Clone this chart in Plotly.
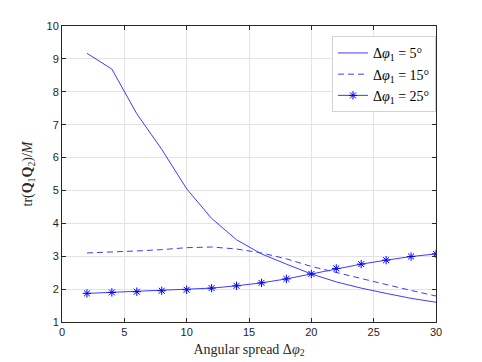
import plotly.graph_objects as go

# angular spread of user 2 (degrees)
x = [2, 4, 6, 8, 10, 12, 14, 16, 18, 20, 22, 24, 26, 28, 30]

# tr(Q1 Q2)/M for the three spreads of user 1
phi5 = [9.17, 8.69, 7.33, 6.25, 5.05, 4.15, 3.5, 3.07, 2.76, 2.46, 2.22, 2.03, 1.87, 1.72, 1.6]
phi15 = [3.1, 3.12, 3.16, 3.2, 3.26, 3.28, 3.22, 3.1, 2.92, 2.69, 2.5, 2.31, 2.14, 1.96, 1.79]
phi25 = [1.87, 1.9, 1.92, 1.95, 1.98, 2.03, 2.1, 2.19, 2.31, 2.46, 2.63, 2.76, 2.88, 2.99, 3.07]

blue = 'rgb(60,60,255)'
fig = go.Figure()
fig.add_trace(go.Scatter(x=x, y=phi5, mode='lines', name='Δ<i>φ</i><sub>1</sub> = 5°',
                         line=dict(color=blue, width=1)))
fig.add_trace(go.Scatter(x=x, y=phi15, mode='lines', name='Δ<i>φ</i><sub>1</sub> = 15°',
                         line=dict(color=blue, width=1, dash='6px,4px')))
fig.add_trace(go.Scatter(x=x, y=phi25, mode='lines+markers', name='Δ<i>φ</i><sub>1</sub> = 25°',
                         line=dict(color=blue, width=1),
                         marker=dict(symbol='asterisk', size=7, color='blue',
                                     line=dict(color='blue', width=1))))

axis_common = dict(
    showgrid=True, gridcolor='rgb(228,228,228)', gridwidth=1,
    showline=True, linecolor='rgb(40,40,40)', linewidth=1, mirror='ticks',
    ticks='inside', ticklen=4, tickcolor='rgb(40,40,40)',
    tickfont=dict(family='Liberation Sans', size=11, color='rgb(30,30,30)'),
    zeroline=False, automargin=False,
)
fig.update_xaxes(range=[0, 30], dtick=5,
                 title=dict(text='Angular spread Δ<i>φ</i><sub>2</sub>', standoff=6,
                            font=dict(family='Liberation Serif', size=14, color='rgb(40,40,40)')),
                 **axis_common)
fig.update_yaxes(range=[1, 10], dtick=1,
                 title=dict(text='tr(<b>Q</b><sub>1</sub><b>Q</b><sub>2</sub>)/<i>M</i>', standoff=10,
                            font=dict(family='Liberation Serif', size=14, color='rgb(40,40,40)')),
                 **axis_common)

# page body has an 8px margin, so margins are shifted to land the axes where the reference has them
fig.update_layout(
    width=482, height=362,
    margin=dict(l=54, r=54, t=18, b=48),
    paper_bgcolor='white', plot_bgcolor='white',
    legend=dict(x=1, y=0.965, xanchor='right', yanchor='top',
                bgcolor='white', bordercolor='rgb(210,210,210)', borderwidth=1,
                font=dict(family='Liberation Serif', size=14, color='black'),
                tracegroupgap=0, itemwidth=30),
)

fig.write_html("out.html")
